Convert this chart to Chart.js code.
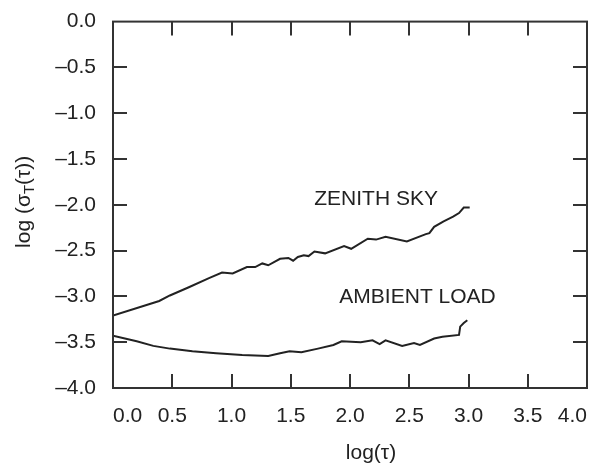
<!DOCTYPE html>
<html>
<head>
  <title>Allan deviation</title>
  <script src="https://cdn.jsdelivr.net/npm/chart.js"></script>
  <style>
    body { margin: 0; background: #fff; }
    #box { width: 595px; height: 470px; }
  </style>
</head>
<body>
  <div id="box"><canvas id="sigmaChart"></canvas></div>

  <script>
    // values, x = log(tau), y = log(sigma_T(tau))
    var zenithX = [0.0, 0.39, 0.48, 0.64, 0.81, 0.92, 1.01, 1.13, 1.20, 1.26, 1.31, 1.41, 1.48, 1.52, 1.56, 1.61, 1.65, 1.70, 1.79, 1.95, 2.01, 2.15, 2.22, 2.30, 2.48, 2.64, 2.67, 2.71, 2.79, 2.87, 2.92, 2.96, 2.99, 3.01];
    var zenithY = [-3.21, -3.05, -2.99, -2.90, -2.80, -2.74, -2.75, -2.68, -2.68, -2.64, -2.66, -2.59, -2.58, -2.61, -2.57, -2.55, -2.56, -2.51, -2.53, -2.45, -2.48, -2.37, -2.38, -2.35, -2.40, -2.32, -2.31, -2.24, -2.18, -2.13, -2.09, -2.03, -2.03, -2.03];

    var ambientX = [0.0, 0.20, 0.34, 0.48, 0.67, 0.87, 1.09, 1.31, 1.41, 1.49, 1.59, 1.73, 1.86, 1.93, 2.09, 2.19, 2.25, 2.30, 2.44, 2.54, 2.59, 2.71, 2.78, 2.92, 2.93, 2.96, 2.99];
    var ambientY = [-3.43, -3.49, -3.54, -3.57, -3.60, -3.62, -3.64, -3.65, -3.62, -3.60, -3.61, -3.57, -3.53, -3.49, -3.50, -3.48, -3.52, -3.48, -3.54, -3.51, -3.53, -3.46, -3.44, -3.42, -3.33, -3.29, -3.26];

    var xTickValues = [0, 0.5, 1, 1.5, 2, 2.5, 3, 3.5, 4];
    var yTickValues = [0, -0.5, -1, -1.5, -2, -2.5, -3, -3.5, -4];

    // curve labels
    var notes = [
      { text: "ZENITH SKY", x: 2.22, y: -1.94 },
      { text: "AMBIENT LOAD", x: 2.57, y: -3.01 }
    ];

    var fontName = "'Liberation Sans', Arial, sans-serif";
    var ink = "#222";

    function toPoints(xs, ys) {
      var pts = [];
      for (var i = 0; i < xs.length; i++) pts.push({ x: xs[i], y: ys[i] });
      return pts;
    }

    function fmt(v) {
      var s = Math.abs(v).toFixed(1);
      return v < 0 ? "\u2013" + s : s;
    }

    // frame with inward ticks on all four sides, notes and both axis titles
    var framePlugin = {
      id: "frame",
      afterDatasetsDraw: function(chart) {
        var ctx = chart.ctx;
        var a = chart.chartArea;
        var xs = chart.scales.x, ys = chart.scales.y;
        var len = 14;
        ctx.save();
        ctx.strokeStyle = "#333";
        ctx.lineWidth = 2;
        ctx.strokeRect(a.left, a.top, a.right - a.left, a.bottom - a.top);
        ctx.beginPath();
        xTickValues.forEach(function(v) {
          var px = Math.round(xs.getPixelForValue(v));
          if (px <= a.left + 1 || px >= a.right - 1) return;
          ctx.moveTo(px, a.bottom); ctx.lineTo(px, a.bottom - len);
          ctx.moveTo(px, a.top); ctx.lineTo(px, a.top + len);
        });
        yTickValues.forEach(function(v) {
          var py = Math.round(ys.getPixelForValue(v));
          if (py <= a.top + 1 || py >= a.bottom - 1) return;
          ctx.moveTo(a.left, py); ctx.lineTo(a.left + len, py);
          ctx.moveTo(a.right, py); ctx.lineTo(a.right - len, py);
        });
        ctx.stroke();

        ctx.fillStyle = ink;
        ctx.font = "21px " + fontName;
        ctx.textAlign = "center";
        ctx.textBaseline = "middle";
        notes.forEach(function(n) {
          ctx.fillText(n.text, xs.getPixelForValue(n.x), ys.getPixelForValue(n.y));
        });

        // x title
        ctx.fillText("log(\u03c4)", 371, 453);

        // y title with subscript T
        ctx.translate(23, (a.top + a.bottom) / 2 - 3);
        ctx.rotate(-Math.PI / 2);
        var big = "21px " + fontName, small = "15px " + fontName;
        var p1 = "log (\u03c3", p2 = "T", p3 = "(\u03c4))";
        ctx.font = big; var w1 = ctx.measureText(p1).width, w3 = ctx.measureText(p3).width;
        ctx.font = small; var w2 = ctx.measureText(p2).width;
        var x0 = -(w1 + w2 + w3) / 2;
        ctx.textAlign = "left";
        ctx.textBaseline = "alphabetic";
        ctx.font = big; ctx.fillText(p1, x0, 7);
        ctx.font = small; ctx.fillText(p2, x0 + w1, 11);
        ctx.font = big; ctx.fillText(p3, x0 + w1 + w2, 7);
        ctx.restore();
      }
    };

    var sigmaChart = new Chart("sigmaChart", {
      type: "line",
      data: {
        datasets: [{
          label: "ZENITH SKY",
          data: toPoints(zenithX, zenithY),
          borderColor: ink,
          borderWidth: 2,
          pointRadius: 0,
          tension: 0
        }, {
          label: "AMBIENT LOAD",
          data: toPoints(ambientX, ambientY),
          borderColor: ink,
          borderWidth: 2,
          pointRadius: 0,
          tension: 0
        }]
      },
      options: {
        responsive: true,
        maintainAspectRatio: false,
        animation: false,
        layout: { padding: { top: 11, right: 4, left: 0, bottom: 0 } },
        plugins: { legend: { display: false }, tooltip: { enabled: false } },
        scales: {
          x: {
            type: "linear",
            min: 0,
            max: 4,
            grid: { display: false },
            border: { display: false },
            afterFit: function(s) { s.height = 82; },
            afterBuildTicks: function(s) { s.ticks = xTickValues.map(function(v) { return { value: v }; }); },
            ticks: {
              color: ink,
              font: { size: 21, family: fontName },
              padding: 8,
              align: "inner",
              maxRotation: 0,
              callback: function(v) { return fmt(v); }
            }
          },
          y: {
            type: "linear",
            min: -4,
            max: 0,
            grid: { display: false },
            border: { display: false },
            afterFit: function(s) { s.width = 113; },
            afterBuildTicks: function(s) { s.ticks = yTickValues.map(function(v) { return { value: v }; }); },
            ticks: {
              color: ink,
              font: { size: 21, family: fontName },
              padding: 9,
              callback: function(v) { return fmt(v); }
            }
          }
        }
      },
      plugins: [framePlugin]
    });
  </script>
</body>
</html>
